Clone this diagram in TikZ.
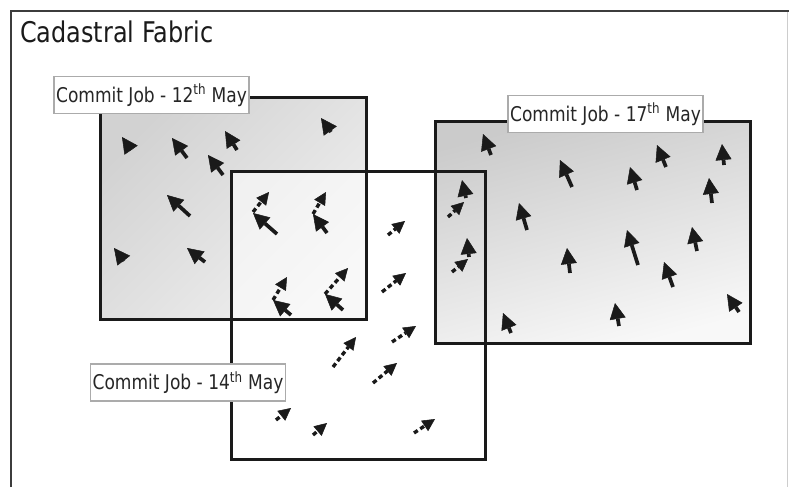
\documentclass[tikz,border=0pt]{standalone}
\usepackage{fontspec}
\setmainfont{DejaVu Sans}[FakeStretch=0.84]
\usetikzlibrary{arrows.meta}

\definecolor{inkdark}{HTML}{1A1A1A}
\definecolor{textgray}{HTML}{262626}
\definecolor{labelrule}{HTML}{ABABAB}
\definecolor{aTop}{HTML}{D2D2D2}
\definecolor{aBot}{HTML}{F0F0F0}
\definecolor{cTop}{HTML}{CBCBCB}
\definecolor{cBot}{HTML}{F8F8F8}

\begin{document}
\begin{tikzpicture}[x=1pt,y=-1pt,
  frameline/.style={draw=inkdark!85, line width=2.2pt},
  jobframe/.style={draw=inkdark, line width=3pt},
  joblabel/.style={draw=labelrule, line width=1.2pt, fill=white, inner sep=0pt,
    minimum width=195pt, minimum height=37pt, text=textgray,
    font=\fontsize{20.3}{24}\selectfont},
  movesolid/.style={draw=inkdark, line width=3.7pt,
    -{Triangle[length=16pt,width=16pt,line width=0.5pt,fill=inkdark]}},
  movedashed/.style={draw=inkdark, line width=3.4pt,
    dash pattern=on 4.5pt off 3pt,
    -{Triangle[length=12.5pt,width=12.5pt,line width=0.5pt,fill=inkdark]}}
]
\useasboundingbox (0,0) rectangle (789,487);

% outer frame
\coordinate (fBL) at (11,487);
\coordinate (fTL) at (11,11);
\coordinate (fTR) at (789,11);
\draw[frameline] (fBL) -- (fTL) -- (fTR);
\draw[draw=labelrule!60, line width=1pt] (787,12) -- (787,487);

\node[anchor=base west, inner sep=0pt, text=inkdark,
  font=\fontsize{28.5}{33}\selectfont] (title) at (20,42) {Cadastral Fabric};

% job extents
\coordinate (A1) at (100,97);  \coordinate (A2) at (366,319);
\coordinate (B1) at (231,171); \coordinate (B2) at (485,459);
\coordinate (C1) at (435,121); \coordinate (C2) at (750,343);

% fills first, so that every outline stays visible
\path[top color=aTop, bottom color=aBot, shading angle=45] (A1) rectangle (A2);
\path[fill=white, fill opacity=0.55] (B1) rectangle (B2);
\path[top color=cTop, bottom color=cBot, shading angle=15] (C1) rectangle (C2);

\draw[jobframe] (A1) rectangle (A2);
\draw[jobframe] (B1) rectangle (B2);
\draw[jobframe] (C1) rectangle (C2);

% job captions
\node[joblabel] (lab12) at (151.5,95)  {Commit Job - 12\textsuperscript{th} May};
\node[joblabel] (lab17) at (605.5,114) {Commit Job - 17\textsuperscript{th} May};
\node[joblabel] (lab14) at (188,382.5) {Commit Job - 14\textsuperscript{th} May};

% 12th May movements
\foreach \i/\tx/\ty/\hx/\hy in {
  1/131/150/122/137, 2/187/158/172/138, 3/237/150/225/131, 4/223/175/208/155,
  5/190/216/167/195, 6/124/261/114/248, 7/205/262/187/248, 8/331/132/321/118,
  9/277/234/253/213, 10/327/233/313/214, 11/291/315/273/300, 12/343/310/325/294}{
  \coordinate (as\i) at (\tx,\ty);
  \coordinate (ae\i) at (\hx,\hy);
  \draw[movesolid] (as\i) -- (ae\i);
}

% 14th May movements
\foreach \i/\tx/\ty/\hx/\hy in {
  1/253/212/269/192, 2/313/214/326/192, 3/273/300/287/277, 4/325/294/348/268,
  5/388/235/405/221, 6/382/292/406/273, 7/392/342/416/326, 8/333/367/356/337,
  9/373/383/397/363, 10/276/420/291/408, 11/313/435/327/423, 12/414/433/435/419,
  13/448/217/464/202, 14/452/272/468/259}{
  \coordinate (bs\i) at (\tx,\ty);
  \coordinate (be\i) at (\hx,\hy);
  \draw[movedashed] (bs\i) -- (be\i);
}

% 17th May movements
\foreach \i/\tx/\ty/\hx/\hy in {
  1/491/155/483/134, 2/572/187/560/160, 3/527/230/519/203, 4/637/190/630/167,
  5/666/167/657/145, 6/724/165/722/144, 7/712/203/709/178, 8/638/265/627/230,
  9/570/273/567/248, 10/697/251/692/227, 11/673/287/664/262, 12/619/326/615/303,
  13/511/333/503/313, 14/739/312/727/294, 15/466/198/462/180, 16/469/257/467/238}{
  \coordinate (cs\i) at (\tx,\ty);
  \coordinate (ce\i) at (\hx,\hy);
  \draw[movesolid] (cs\i) -- (ce\i);
}
\end{tikzpicture}
\end{document}
